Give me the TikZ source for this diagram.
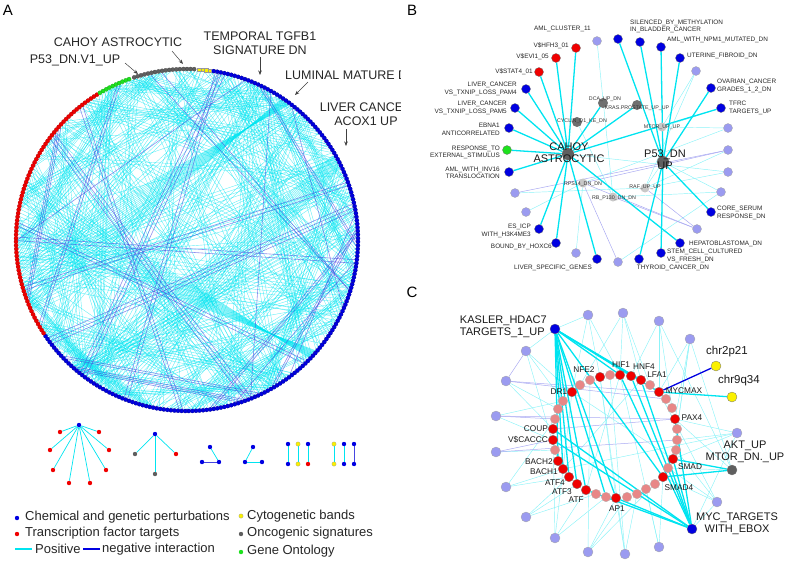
\documentclass[tikz,border=0pt]{standalone}
\usepackage{fontspec}
\setmainfont{Liberation Sans}
\usetikzlibrary{backgrounds,arrows.meta}
\definecolor{pblue}{RGB}{0,0,225}
\definecolor{pred}{RGB}{240,0,0}
\definecolor{pcyan}{RGB}{0,228,240}
\definecolor{pneg}{RGB}{70,70,225}
\definecolor{plight}{RGB}{155,155,240}
\definecolor{pgray}{RGB}{95,95,95}
\definecolor{plgray}{RGB}{200,200,200}
\definecolor{pgreen}{RGB}{30,225,30}
\definecolor{pyellow}{RGB}{250,240,0}
\definecolor{ppink}{RGB}{232,135,135}
\begin{document}
\begin{tikzpicture}[x=1pt,y=-1pt,
  dotb/.style={circle,inner sep=0pt,minimum size=9pt,draw=black!55,line width=0.3pt},
  bnode/.style={dotb,fill=pblue},
  rnode/.style={dotb,fill=pred},
  lnode/.style={dotb,fill=plight,draw=black!35},
  gnode/.style={dotb,fill=pgray},
  grnode/.style={dotb,fill=pgreen},
  ynode/.style={dotb,fill=pyellow,minimum size=10pt},
  pnode/.style={dotb,fill=ppink,draw=black!30},
  hubnode/.style={dotb,fill=pgray,minimum size=12pt,draw=none},
  inode/.style={dotb,fill=pgray!90,minimum size=10pt,draw=none},
  ilnode/.style={dotb,fill=plgray,minimum size=9pt,draw=none},
  posline/.style={pcyan,line width=1.3pt},
  weakline/.style={pcyan!45,line width=0.45pt},
  negline/.style={plight!85,line width=0.5pt},
  negstrong/.style={pblue,line width=1.3pt},
  motline/.style={pcyan,line width=0.7pt},
  motneg/.style={pneg,line width=0.7pt},
  blab/.style={font=\fontsize{6.4}{7.5}\selectfont,inner sep=0pt,text=black!85},
  slab/.style={font=\fontsize{5.3}{6}\selectfont,inner sep=0pt,text=black!80},
  clab/.style={font=\fontsize{8.3}{9}\selectfont,inner sep=0pt,text=black!90},
  bigc/.style={font=\fontsize{11}{12}\selectfont,inner sep=0pt,text=black!90},
  alab/.style={font=\fontsize{12.5}{13.5}\selectfont,inner sep=0pt,text=black!85},
  leg/.style={font=\fontsize{13}{14}\selectfont,inner sep=0pt,anchor=west,text=black!85},
  panel/.style={font=\fontsize{15}{16}\selectfont,inner sep=0pt},
  mdot/.style={circle,inner sep=0pt,minimum size=4.4pt},
  arr/.style={-{Stealth[length=4.5pt,width=3.5pt]},black!75,line width=0.5pt},
  chpos/.style={pcyan,opacity=0.6,line width=0.4pt},
  chneg/.style={pneg,opacity=0.6,line width=0.6pt}
]
\useasboundingbox (0,0) rectangle (787,563);

% ---------------- panel letters
\node[panel] (pA) at (8,10) {A};
\node[panel] (pB) at (412,10) {B};
\node[panel] (pC) at (412,292) {C};

% ---------------- panel A chords
\pgfmathsetseed{17}
\foreach \g in {1,...,165}{
  \pgfmathsetmacro\a{360*rnd}
  \pgfmathsetmacro\b{\a+40+280*rnd}
  \pgfmathtruncatemacro\n{1+4*rnd}
  \foreach \k in {1,...,\n}{
    \draw[chpos] ({187+169*cos(\a+1.2*\k)},{240-169*sin(\a+1.2*\k)}) -- ({187+169*cos(\b-1.2*\k)},{240-169*sin(\b-1.2*\k)});
  }
}
\foreach \k in {0,...,16}{
  \draw[chpos] ({187+169*cos(160+1.2*\k)},{240-169*sin(160+1.2*\k)}) -- ({187+169*cos(-44+0.2*\k)},{240-169*sin(-44+0.2*\k)});
  \draw[chpos] ({187+169*cos(185+1.2*\k)},{240-169*sin(185+1.2*\k)}) -- ({187+169*cos(53+0.2*\k)},{240-169*sin(53+0.2*\k)});
  \draw[chpos] ({187+169*cos(230+1.2*\k)},{240-169*sin(230+1.2*\k)}) -- ({187+169*cos(30-0.3*\k)},{240-169*sin(30-0.3*\k)});
}
\foreach \g in {1,...,22}{
  \pgfmathsetmacro\a{360*rnd}
  \pgfmathsetmacro\b{\a+50+260*rnd}
  \pgfmathtruncatemacro\n{1+2.6*rnd}
  \foreach \k in {1,...,\n}{
    \draw[chneg] ({187+169*cos(\a+1.2*\k)},{240-169*sin(\a+1.2*\k)}) -- ({187+169*cos(\b-1.2*\k)},{240-169*sin(\b-1.2*\k)});
  }
}
% circle dots
\foreach \a in {81,79.8,...,-146.2}
  \fill[pblue,draw=pblue!60!black,line width=0.2pt] ({187+171*cos(\a)},{240-171*sin(\a)}) circle (2.1);
\foreach \a in {121.8,123,...,213.8}
  \fill[pred,draw=pred!70!black,line width=0.2pt] ({187+171*cos(\a)},{240-171*sin(\a)}) circle (2.1);
\foreach \a in {109.8,111,...,120.6}
  \fill[pgreen,draw=pgreen!70!black,line width=0.2pt] ({187+171*cos(\a)},{240-171*sin(\a)}) circle (2.1);
\foreach \a in {87.6,88.8,...,108.6}
  \fill[pgray,draw=pgray!70!black,line width=0.2pt] ({187+171*cos(\a)},{240-171*sin(\a)}) circle (2.1);
\foreach \a in {82.4,83.6,...,86.4}
  \fill[pyellow,draw=black!40,line width=0.2pt] ({187+171*cos(\a)-1.7},{240-171*sin(\a)-1.7}) rectangle ++(3.4,3.4);

% panel A labels and arrows
\begin{scope}
\clip (0,0) rectangle (400,563);
\node[alab] (tCahoy) at (118,42) {CAHOY ASTROCYTIC};
\node[alab] (tP53) at (75,60) {P53\_DN.V1\_UP};
\node[alab,align=center] (tTemp) at (260,43) {TEMPORAL TGFB1\\SIGNATURE DN};
\node[alab,anchor=west] (tLum) at (285,75) {LUMINAL MATURE DN};
\node[alab,align=center] (tLiv) at (366,114) {LIVER CANCER\\ACOX1 UP};
\end{scope}
\coordinate (as1) at (172,51);  \coordinate (ae1) at (183,64);
\coordinate (as2) at (125,63);  \coordinate (ae2) at (138,74);
\coordinate (as3) at (260,57);  \coordinate (ae3) at (260,75);
\coordinate (as4) at (308,82);  \coordinate (ae4) at (295,95);
\coordinate (as5) at (346,129); \coordinate (ae5) at (346,146);
\foreach \i in {1,...,5} \draw[arr] (as\i) -- (ae\i);

% ---------------- motifs
\node[mdot,fill=pblue] (m1) at (79,425) {};
\foreach \n/\x/\y in {r1/60/432,r2/99/432,r3/50/450,r4/109/450,r5/53/470,r6/106/470,r7/69/483,r8/90/483}
  \node[mdot,fill=pred] (m\n) at (\x,\y) {};
\node[mdot,fill=pblue] (m2) at (155,434) {};
\node[mdot,fill=pgray] (mg1) at (135,454) {};
\node[mdot,fill=pred] (mr9) at (176,454) {};
\node[mdot,fill=pgray] (mg2) at (155,474) {};
\node[mdot,fill=pblue] (m3) at (210,447) {};
\node[mdot,fill=pblue] (m4) at (202,462) {};
\node[mdot,fill=pblue] (m5) at (219,462) {};
\node[mdot,fill=pblue] (m6) at (253,447) {};
\node[mdot,fill=pblue] (m7) at (245,462) {};
\node[mdot,fill=pblue] (m8) at (262,462) {};
\node[mdot,fill=pblue] (n1) at (288,444) {};
\node[mdot,fill=pyellow,draw=black!40,line width=0.2pt] (n2) at (298,444) {};
\node[mdot,fill=pblue] (n3) at (308,444) {};
\node[mdot,fill=pblue] (n4) at (288,464) {};
\node[mdot,fill=pyellow,draw=black!40,line width=0.2pt] (n5) at (298,464) {};
\node[mdot,fill=pred] (n6) at (308,464) {};
\node[mdot,fill=pyellow,draw=black!40,line width=0.2pt] (o1) at (334,444) {};
\node[mdot,fill=pblue] (o2) at (344,444) {};
\node[mdot,fill=pblue] (o3) at (354,444) {};
\node[mdot,fill=pyellow,draw=black!40,line width=0.2pt] (o4) at (334,464) {};
\node[mdot,fill=pblue] (o5) at (344,464) {};
\node[mdot,fill=pblue] (o6) at (354,464) {};
\begin{scope}[on background layer]
\foreach \t in {mr1,mr2,mr3,mr4,mr5,mr6,mr7,mr8} \draw[motline] (m1) -- (\t);
\foreach \t in {mg1,mr9,mg2} \draw[motline] (m2) -- (\t);
\draw[motline] (m3) -- (m5);
\draw[motneg] (m4) -- (m5);
\draw[motline] (m6) -- (m7);
\draw[motline] (m7) -- (m8);
\draw[motline] (n1) -- (n4);
\draw[motline] (n2) -- (n5);
\draw[motline] (n3) -- (n6);
\draw[motline] (o1) -- (o4);
\draw[motline] (o2) -- (o5);
\draw[motneg] (o3) -- (o6);
\end{scope}

% ---------------- legend
\node[mdot,fill=pblue] (lg1) at (17,518) {};
\node[leg] (lt1) at (25,517) {Chemical and genetic perturbations};
\node[mdot,fill=pred] (lg2) at (17,534) {};
\node[leg] (lt2) at (25,533) {Transcription factor targets};
\coordinate (lp1) at (15,549); \coordinate (lp2) at (32,549);
\coordinate (lp3) at (83,549); \coordinate (lp4) at (100,549);
\draw[pcyan,line width=1.3pt] (lp1) -- (lp2);
\node[leg] (lt3) at (35,549) {Positive};
\draw[pblue,line width=1.3pt] (lp3) -- (lp4);
\node[leg] (lt4) at (102,549) {negative interaction};
\node[mdot,fill=pyellow,draw=black!40,line width=0.2pt] (lg4) at (241,516) {};
\node[leg] (lt5) at (247,516) {Cytogenetic bands};
\node[mdot,fill=pgray] (lg5) at (241,534) {};
\node[leg] (lt6) at (247,533) {Oncogenic signatures};
\node[mdot,fill=pgreen] (lg6) at (241,552) {};
\node[leg] (lt7) at (247,551) {Gene Ontology};

% ---------------- panel B nodes
\node[hubnode] (cahoy) at (568,154) {};
\node[hubnode] (p53) at (663,162) {};
\node[lnode] (b1) at (597,41) {};
\node[bnode] (b2) at (618,39) {};
\node[bnode] (b3) at (640,42) {};
\node[bnode] (b4) at (661,47) {};
\node[bnode] (b5) at (680,58) {};
\node[lnode] (b6) at (696,71) {};
\node[bnode] (b7) at (711,88) {};
\node[bnode] (b8) at (721,108) {};
\node[lnode] (b9) at (728,128) {};
\node[lnode] (b10) at (728,150) {};
\node[lnode] (b11) at (728,172) {};
\node[lnode] (b12) at (721,192) {};
\node[bnode] (b13) at (711,212) {};
\node[lnode] (b14) at (697,229) {};
\node[bnode] (b15) at (680,243) {};
\node[bnode] (b16) at (661,253) {};
\node[bnode] (b17) at (639,259) {};
\node[lnode] (b18) at (618,262) {};
\node[bnode] (b19) at (597,259) {};
\node[lnode] (b20) at (576,253) {};
\node[bnode] (b21) at (556,243) {};
\node[bnode] (b22) at (539,229) {};
\node[lnode] (b23) at (526,212) {};
\node[lnode] (b24) at (515,193) {};
\node[bnode] (b25) at (509,172) {};
\node[grnode] (b26) at (507,150) {};
\node[bnode] (b27) at (509,128) {};
\node[bnode] (b28) at (515,108) {};
\node[bnode] (b29) at (526,89) {};
\node[rnode] (b30) at (539,72) {};
\node[rnode] (b31) at (556,58) {};
\node[rnode] (b32) at (576,48) {};
\node[inode] (dca) at (603,103) {};
\node[inode] (kras) at (637,105) {};
\node[inode] (cyclin) at (577,122) {};
\node[ilnode] (mtor) at (662,127) {};
\node[ilnode] (rps) at (583,183) {};
\node[ilnode] (raf) at (645,188) {};
\node[ilnode] (rb) at (613,197) {};

\begin{scope}[on background layer]
\foreach \s/\t in {b1/rb,b6/mtor,b6/raf,b9/mtor,b11/raf,b12/rb,b23/rps,b24/raf,b20/rps,b12/p53,raf/p53,mtor/b8,cyclin/rb,b11/cahoy,b9/rps,b12/b18,b10/raf}
  \draw[weakline] (\s) -- (\t);
\foreach \s/\t in {b10/rps,b14/rb,b14/rps,b18/rps,b24/b10,b14/raf}
  \draw[negline] (\s) -- (\t);
\foreach \t in {b30,b31,b32,b29,b28,b27,b26,b25,b22,b21,b19,b15,b8,kras,dca}
  \draw[posline] (cahoy) -- (\t);
\foreach \t in {b2,b3,b4,b5,b7,b13,b16,b17}
  \draw[posline] (p53) -- (\t);
\end{scope}

% panel B labels
\node[blab,anchor=east] (tb1) at (591,29) {AML\_CLUSTER\_11};
\node[blab,anchor=west,align=left] (tb3) at (630,26.5) {SILENCED\_BY\_METHYLATION\\IN\_BLADDER\_CANCER};
\node[blab,anchor=west] (tb4) at (667,40) {AML\_WITH\_NPM1\_MUTATED\_DN};
\node[blab,anchor=west] (tb5) at (687,56) {UTERINE\_FIBROID\_DN};
\node[blab,anchor=west,align=left] (tb7) at (717,86) {OVARIAN\_CANCER\\GRADES\_1\_2\_DN};
\node[blab,anchor=west,align=left] (tb8) at (729,108) {TFRC\\TARGETS\_UP};
\node[blab,anchor=east] (tb32) at (569,46) {V\$HFH3\_01};
\node[blab,anchor=east] (tb31) at (549,57) {V\$EVI1\_05};
\node[blab,anchor=east] (tb30) at (533,72) {V\$STAT4\_01};
\node[blab,anchor=east,align=right] (tb29) at (517,89) {LIVER\_CANCER\\VS\_TXNIP\_LOSS\_PAM4};
\node[blab,anchor=east,align=right] (tb28) at (507,108) {LIVER\_CANCER\\VS\_TXNIP\_LOSS\_PAM5};
\node[blab,anchor=east,align=right] (tb27) at (500,129.5) {EBNA1\\ANTICORRELATED};
\node[blab,anchor=east,align=right] (tb26) at (500,152.5) {RESPONSE\_TO\\EXTERNAL\_STIMULUS};
\node[blab,anchor=east,align=right] (tb25) at (500,173) {AML\_WITH\_INV16\\TRANSLOCATION};
\node[blab,anchor=east,align=right] (tb22) at (531,231) {ES\_ICP\\WITH\_H3K4ME3};
\node[blab,anchor=east] (tb21) at (552,247) {BOUND\_BY\_HOXC6};
\node[blab] (tb19) at (553,268) {LIVER\_SPECIFIC\_GENES};
\node[blab] (tb17) at (673,268) {THYROID\_CANCER\_DN};
\node[blab,anchor=west,align=left] (tb16) at (667,256) {STEM\_CELL\_CULTURED\\VS\_FRESH\_DN};
\node[blab,anchor=west] (tb15) at (689,244) {HEPATOBLASTOMA\_DN};
\node[blab,anchor=west,align=left] (tb13) at (717,213) {CORE\_SERUM\\RESPONSE\_DN};
\node[bigc,align=center] (tcahoy) at (569,153) {CAHOY\\ASTROCYTIC};
\node[bigc,align=center] (tp53) at (665,160) {P53\_DN\\UP};
\node[slab] (tdca) at (605,99) {DCA\_UP\_DN};
\node[slab] (tkras) at (637,108) {KRAS.PROSTATE\_UP\_UP};
\node[slab] (tcyc) at (582,121) {CYCLIN\_D1\_KE\_DN};
\node[slab] (tmtor) at (662,127) {MTOR\_UP\_UP};
\node[slab] (trps) at (583,184) {RPS14\_DN\_DN};
\node[slab] (traf) at (645,187) {RAF\_UP\_UP};
\node[slab] (trb) at (614,198) {RB\_P130\_DN\_DN};

% ---------------- panel C nodes
\node[bnode,minimum size=10pt] (kasler) at (555,329) {};
\node[bnode,minimum size=10pt] (myc) at (692,529) {};
\node[gnode,minimum size=10pt] (akt) at (732,470) {};
\node[ynode] (chrA) at (716,366) {};
\node[ynode] (chrB) at (732,397) {};
\foreach \n/\x/\y in {c1/588/315,c2/623/313,c3/659/321,c4/690/339,c5/526/351,c6/506/381,c7/496/416,c8/737/433,c9/496/452,c10/506/487,c11/526/517,c12/555/538,c13/588/552,c14/625/554,c15/659/547,c16/717/502}
  \node[lnode,minimum size=10pt] (\n) at (\x,\y) {};
\foreach \n/\x/\y in {p1/610/375,p2/650/385,p3/666/399,p4/672/408,p5/677/429,p6/677/440,p7/676/450,p8/668/468,p9/655/484,p10/646/489,p11/637/494,p12/627/497,p13/606/497,p14/596/494,p15/555/450,p16/555/419,p17/558/409,p18/563/401,p19/580/385,p20/590/380}
  \node[pnode,minimum size=9.5pt] (\n) at (\x,\y) {};
\foreach \n/\x/\y in {nfe2/600/377,hif1/620/375,hnf4/631/376,lfa1/641/380,mycmax/659/392,pax4/675/419,smad/673/459,smad4/663/477,ap1/616/498,atf/586/490,atf3/577/484,atf4/569/477,bach1/563/469,bach2/558/461,vcaccc/553/440,coup/553/429,dr1/572/392}
  \node[rnode,minimum size=9.5pt] (\n) at (\x,\y) {};

\begin{scope}[on background layer]
\foreach \s/\t in {c1/nfe2,c1/dr1,c1/hif1,c2/hif1,c2/lfa1,c2/p2,c3/mycmax,c3/hnf4,c3/p4,c4/mycmax,c4/pax4,c4/p5,c4/smad,c5/dr1,c5/p18,c5/bach2,c6/p17,c6/coup,c7/vcaccc,c8/pax4,c8/smad,c8/p6,c8/bach1,c9/p15,c10/bach1,c10/atf4,c11/atf3,c11/p14,c11/atf4,c12/atf,c12/p13,c12/coup,c13/ap1,c13/p12,c13/p20,c14/p11,c14/ap1,c14/nfe2,c15/p10,c15/smad4,c15/hif1,c16/smad4,c16/p8,c16/mycmax,c16/p7,kasler/c1,kasler/c5,dr1/smad,nfe2/ap1,hif1/atf,lfa1/bach1,akt/pax4,akt/p8,c3/akt,c4/akt,c8/myc,c16/myc,c12/dr1,c10/p16,c2/p19,c13/p9,c14/p1,c7/p18}
  \draw[weakline] (\s) -- (\t);
\foreach \s/\t in {c6/mycmax,c6/p3,c7/p16,c7/pax4,c9/vcaccc,c9/p6,coup/pax4,c5/c6}
  \draw[negline] (\s) -- (\t);
\foreach \t in {bach2,bach1,atf4,atf3,atf,ap1,hif1,hnf4,lfa1,mycmax,smad4,p13}
  \draw[posline] (kasler) -- (\t);
\foreach \t in {coup,vcaccc,ap1,atf,hif1,hnf4,lfa1,pax4,smad}
  \draw[posline] (myc) -- (\t);
\foreach \t in {smad,smad4}
  \draw[posline] (akt) -- (\t);
\draw[negstrong] (chrA) -- (mycmax);
\draw[posline] (chrB) -- (mycmax);
\end{scope}

% panel C labels
\node[bigc,anchor=east,align=left] (tkas) at (547,327) {KASLER\_HDAC7\\TARGETS\_1\_UP};
\node[bigc,font=\fontsize{11.5}{12}\selectfont] (tchrA) at (727,352) {chr2p21};
\node[bigc,font=\fontsize{11.5}{12}\selectfont] (tchrB) at (739,381) {chr9q34};
\node[bigc,align=center] (takt) at (745,452) {AKT\_UP\\MTOR\_DN.\_UP};
\node[bigc,align=center] (tmyc) at (737,524) {MYC\_TARGETS\\WITH\_EBOX};
\node[clab] (tnfe2) at (584,370) {NFE2};
\node[clab] (thif1) at (621,365) {HIF1};
\node[clab] (thnf4) at (644,367) {HNF4};
\node[clab] (tlfa1) at (657,375) {LFA1};
\node[clab] (tdr1) at (559,392) {DR1};
\node[clab] (tmycmax) at (684,391) {MYCMAX};
\node[clab] (tpax4) at (692,418) {PAX4};
\node[clab,anchor=east] (tcoup) at (548,429) {COUP};
\node[clab,anchor=east] (tvc) at (548,440) {V\$CACCC};
\node[clab,anchor=east] (tbach2) at (553,462) {BACH2};
\node[clab,anchor=east] (tbach1) at (558,472) {BACH1};
\node[clab,anchor=east] (tatf4) at (565,483) {ATF4};
\node[clab,anchor=east] (tatf3) at (572,492) {ATF3};
\node[clab,anchor=east] (tatf) at (584,500) {ATF};
\node[clab] (tap1) at (617,509) {AP1};
\node[clab] (tsmad) at (690,467) {SMAD};
\node[clab] (tsmad4) at (679,488) {SMAD4};
\end{tikzpicture}
\end{document}
